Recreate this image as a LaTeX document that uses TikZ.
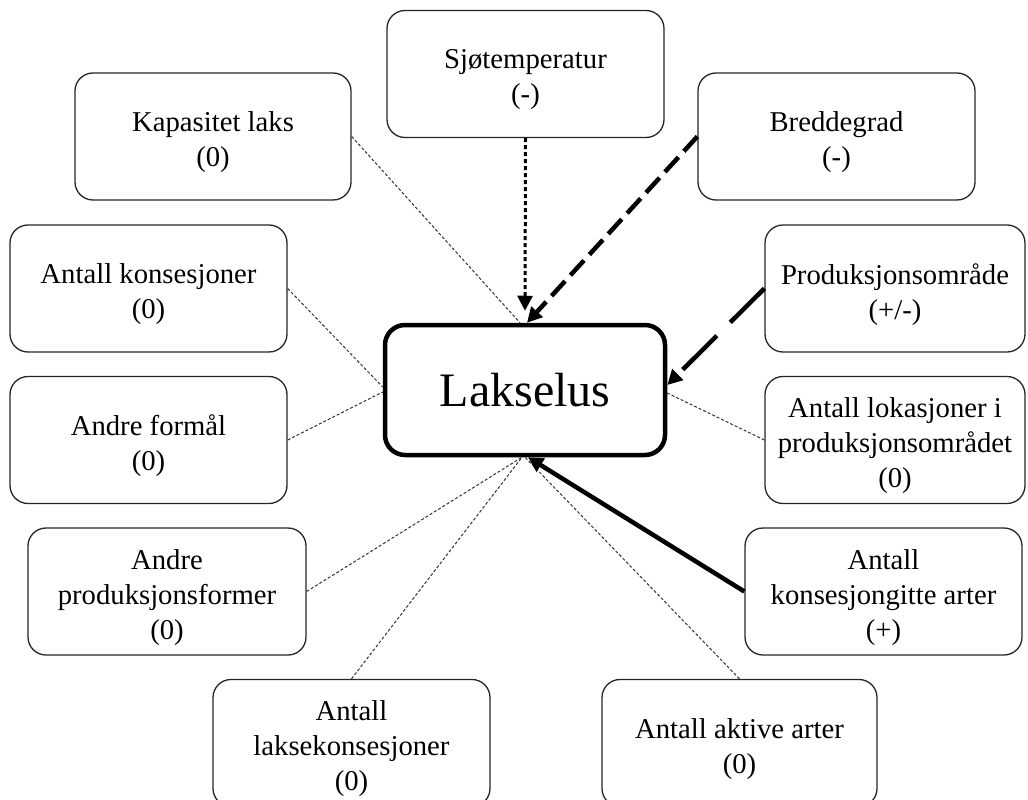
\documentclass[tikz,border=0pt]{standalone}
\usepackage{fontspec}
\setmainfont{Liberation Serif}
\usetikzlibrary{calc,arrows.meta}
% a rounded box with its text set a little below the middle
\newcommand{\factornode}[4]{%
  \node[factor, minimum width=#3] (#1) at (#2) {};
  \node[factortext] (#1-text) at ($(#1.center)+(0,6)$) {#4};}
\begin{document}
\begin{tikzpicture}[x=1pt,y=-1pt,
  factor/.style={draw=black!85, line width=1.3pt, rounded corners=18pt, fill=white,
    inner sep=0pt, minimum height=127pt},
  factortext/.style={align=center, inner sep=0pt,
    font=\fontsize{28.7}{35}\selectfont},
  core/.style={draw=black, line width=4.5pt, rounded corners=20pt, fill=white,
    inner sep=0pt, minimum width=280pt, minimum height=130pt,
    font=\fontsize{48}{56}\selectfont},
  neutral/.style={draw=black!80, line width=1pt, dash pattern=on 3pt off 2pt},
  tip/.style={-{Triangle[length=15pt,width=15pt]}},
  dotlink/.style={tip, line width=3pt, dash pattern=on 4pt off 3pt},
  dashlink/.style={tip, line width=4.5pt, dash pattern=on 20pt off 8pt},
  longdashlink/.style={tip, line width=4.5pt, dash pattern=on 48pt off 19pt},
  solidlink/.style={tip, line width=4.5pt}]
\useasboundingbox (0,0) rectangle (1028,800);
\clip (0,0) rectangle (1028,800);

% central node
\node[core] (lak) at (525,390) {Lakselus};

% surrounding factors
\factornode{sjo}{525.5,74}{277pt}{Sjøtemperatur\\(-)}
\factornode{kap}{213,136.5}{276pt}{Kapasitet laks\\(0)}
\factornode{bred}{836.5,136.5}{277pt}{Breddegrad\\(-)}
\factornode{kons}{148.5,288.5}{277pt}{Antall konsesjoner\\(0)}
\factornode{prod}{895,288.5}{260pt}{Produksjonsområde\\(+/-)}
\factornode{andre}{148.5,440}{277pt}{Andre formål\\(0)}
\factornode{lok}{895,440}{260pt}{Antall lokasjoner i\\produksjonsområdet\\(0)}
\factornode{pform}{167,591.5}{278pt}{Andre\\produksjonsformer\\(0)}
\factornode{kgitt}{883.5,591.5}{277pt}{Antall\\konsesjongitte arter\\(+)}
\factornode{laks}{351.5,743}{277pt}{Antall\\laksekonsesjoner\\(0)}
\factornode{akt}{739.5,743}{275pt}{Antall aktive arter\\(0)}

% factors without effect
\draw[neutral] (kap.east)   -- ($(lak.north)+(-5,0)$);
\draw[neutral] (kons.east)  -- ($(lak.west)+(0,-3)$);
\draw[neutral] (andre.east) -- ($(lak.west)+(0,2)$);
\draw[neutral] (lok.west)   -- ($(lak.east)+(0,3)$);
\draw[neutral] (pform.east) -- ($(lak.south)+(-3,0)$);
\draw[neutral] (laks.north) -- ($(lak.south)+(-3,0)$);
\draw[neutral] (akt.north)  -- (lak.south);

% factors with effect
\draw[dotlink]      (sjo.south)  -- ($(lak.north)+(0,-12)$);
\draw[dashlink]     (bred.west)  -- ($(lak.north)+(2,0)$);
\draw[longdashlink] (prod.west)  -- ($(lak.east)+(0,-5)$);
\draw[solidlink]    (kgitt.west) -- ($(lak.south)+(3,0)$);
\end{tikzpicture}
\end{document}
